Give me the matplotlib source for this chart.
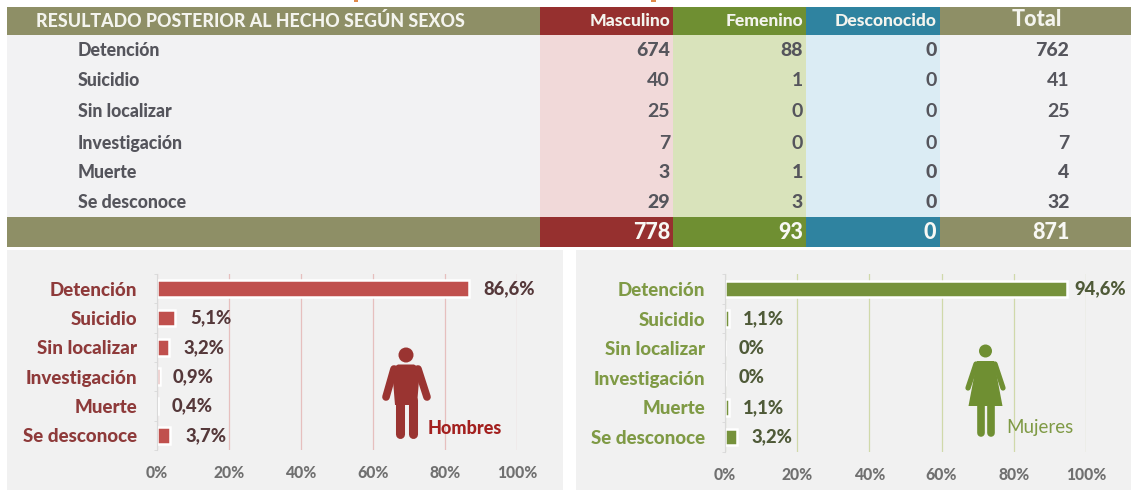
import matplotlib
matplotlib.use("Agg")
import matplotlib.pyplot as plt
from matplotlib.patches import Rectangle, Circle, Polygon
from matplotlib.ticker import FuncFormatter, FixedLocator

plt.rcParams['font.family'] = ['Lato', 'DejaVu Sans']

title = "RESULTADO POSTERIOR AL HECHO SEGÚN SEXOS"
columns = ["Masculino", "Femenino", "Desconocido", "Total"]
categories = ["Detención", "Suicidio", "Sin localizar", "Investigación", "Muerte", "Se desconoce"]
masculino = [674, 40, 25, 7, 3, 29]
femenino = [88, 1, 0, 0, 1, 3]
desconocido = [0, 0, 0, 0, 0, 0]
total = [762, 41, 25, 7, 4, 32]
totals_row = [778, 93, 0, 871]
pct_hombres = [86.6, 5.1, 3.2, 0.9, 0.4, 3.7]
pct_mujeres = [94.6, 1.1, 0, 0, 1.1, 3.2]
label_hombres = ["86,6%", "5,1%", "3,2%", "0,9%", "0,4%", "3,7%"]
label_mujeres = ["94,6%", "1,1%", "0%", "0%", "1,1%", "3,2%"]
ticks = [0, 20, 40, 60, 80, 100]

W, H = 1131, 490
fig = plt.figure(figsize=(W / 100, H / 100), dpi=100, facecolor="white")
bg = fig.add_axes([0, 0, 1, 1])
bg.set_xlim(0, W); bg.set_ylim(H, 0); bg.axis("off")

OLIVE = "#8e8f66"; RED = "#96302f"; GREEN = "#6f8f32"; BLUE = "#2f83a0"
PINK = "#f1d9d9"; LGREEN = "#d9e3bb"; LBLUE = "#dbecf4"; GREY = "#f2f2f3"
TXT = "#55555c"
HEAVY = 900

def rect(x0, y0, x1, y1, c):
    bg.add_patch(Rectangle((x0, y0), x1 - x0, y1 - y0, fc=c, ec="none"))

edges = [7, 540, 673, 806, 940, 1131]
head_c = [OLIVE, RED, GREEN, BLUE, OLIVE]
body_c = [GREY, PINK, LGREEN, LBLUE, GREY]
for i in range(5):
    rect(edges[i], 7, edges[i + 1], 35, head_c[i])
    rect(edges[i], 35, edges[i + 1], 217, body_c[i])
    rect(edges[i], 217, edges[i + 1], 247, head_c[i])
rect(7, 250, 563, 490, "#f1f1f1")
rect(576, 250, 1131, 490, "#f1f1f1")

# remnants of the cropped-off title at the very top edge
rect(354, 0, 358, 2, "#e08a4a")
rect(651, 0, 656, 2, "#e08a4a")

bg.text(36, 21, title, color="#f4f4ee", fontsize=12.8, fontweight=HEAVY, va="center")
hx = [670, 803, 936.5]
for x, c in zip(hx, columns[:3]):
    bg.text(x, 21, c, color="#f4f4ee", fontsize=12.6, fontweight=HEAVY, ha="right", va="center")
bg.text(1037, 19, columns[3], color="#f4f4ee", fontsize=15.5, fontweight=HEAVY, ha="center", va="center")

row_y = [51, 81, 111, 143, 172, 202]
strong = [True, False, False, False, True, True]
vx = [670, 803, 936.5, 1069.5]
for r, (y, name) in enumerate(zip(row_y, categories)):
    bg.text(78, y, name, color=TXT, fontsize=12.8, fontweight=HEAVY, va="center")
    for x, col in zip(vx, [masculino, femenino, desconocido, total]):
        bg.text(x, y, str(col[r]), color=TXT, fontsize=14,
                fontweight=HEAVY if strong[r] else "bold", ha="right", va="center")
for x, v in zip(vx, totals_row):
    bg.text(x, 232, str(v), color="#f8f8f4", fontsize=15.5, fontweight=HEAVY, ha="right", va="center")


def chart(x0, x1, y0, y1, values, labels, bar_c, grid_c, label_c, val_c, offsets):
    ax = fig.add_axes([x0 / W, 1 - y1 / H, (x1 - x0) / W, (y1 - y0) / H])
    ax.patch.set_alpha(0)
    pos = list(range(len(categories)))
    ax.set_xlim(0, 100); ax.set_ylim(len(categories) - 0.5, -0.5)
    ax.set_axisbelow(True)
    ax.xaxis.grid(True, color=grid_c, lw=0.9)
    ax.barh(pos, values, height=0.56, color=bar_c, edgecolor="white", linewidth=1.8)
    for s in ("top", "right", "bottom"):
        ax.spines[s].set_visible(False)
    ax.spines["left"].set_color("#d9d9d9")
    ax.set_yticks(pos, categories, color=label_c, fontsize=13.5, fontweight=HEAVY)
    ax.yaxis.set_minor_locator(FixedLocator([p - 0.5 for p in pos] + [pos[-1] + 0.5]))
    ax.tick_params(axis="y", which="major", length=0, pad=14)
    ax.tick_params(axis="y", which="minor", length=2.5, color="#d9d9d9")
    ax.set_xticks(ticks)
    ax.xaxis.set_major_formatter(FuncFormatter(lambda v, _: f"{v:.0f}%"))
    ax.tick_params(axis="x", length=0, pad=11, labelcolor="#707070", labelsize=11.3)
    for t in ax.get_xticklabels():
        t.set_fontweight(HEAVY)
    for p, v, s, off in zip(pos, values, labels, offsets):
        ax.annotate(s, (v, p), xytext=(off * 0.72, 0), textcoords="offset points",
                    color=val_c, fontsize=13.3, fontweight=HEAVY, va="center", ha="left",
                    annotation_clip=False)
    return ax


chart(157, 517, 274, 450, pct_hombres, label_hombres, "#c0504d", "#e6bfbe", "#8e3a3a", "#55383a",
      [15, 15, 15, 12, 13, 15])
chart(725, 1086, 274, 452, pct_mujeres, label_mujeres, "#76923c", "#d0d9aa", "#7f9a45", "#4f5a38",
      [8, 14, 14, 14, 14, 15])

fg = fig.add_axes([0, 0, 1, 1])
fg.set_xlim(0, W); fg.set_ylim(H, 0); fg.axis("off"); fg.patch.set_alpha(0)

# man pictogram
MAN = "#9a3431"
fg.add_patch(Circle((406, 355), 7.5, fc=MAN, ec="none"))
fg.add_patch(Polygon([(392, 368), (398, 364.5), (414, 364.5), (420, 368), (417, 405), (395, 405)], fc=MAN, ec="none"))
for xs, ys, lw in [([394, 386], [369, 397], 5.5), ([418, 427], [369, 397], 5.5),
                   ([399.5, 399.5], [400, 434], 6.5), ([412.5, 412.5], [400, 434], 6.5)]:
    fg.plot(xs, ys, color=MAN, lw=lw, solid_capstyle="round")
fg.text(465, 428, "Hombres", color="#a3201f", fontsize=13, fontweight=HEAVY, ha="center", va="center")

# woman pictogram
WOM = "#6f8f32"
fg.add_patch(Circle((985.5, 351), 6.5, fc=WOM, ec="none"))
fg.add_patch(Polygon([(977, 361), (994, 361), (1002.5, 406), (968.5, 406)], fc=WOM, ec="none"))
for xs, ys, lw in [([976, 968], [364, 388], 3.8), ([995, 1003], [364, 388], 3.8),
                   ([980.5, 980.5], [404, 433], 5.5), ([991, 991], [404, 433], 5.5)]:
    fg.plot(xs, ys, color=WOM, lw=lw, solid_capstyle="round")
fg.text(1040, 427, "Mujeres", color="#7f9a45", fontsize=13.5, ha="center", va="center")

fig.savefig("out.png", dpi=100)
